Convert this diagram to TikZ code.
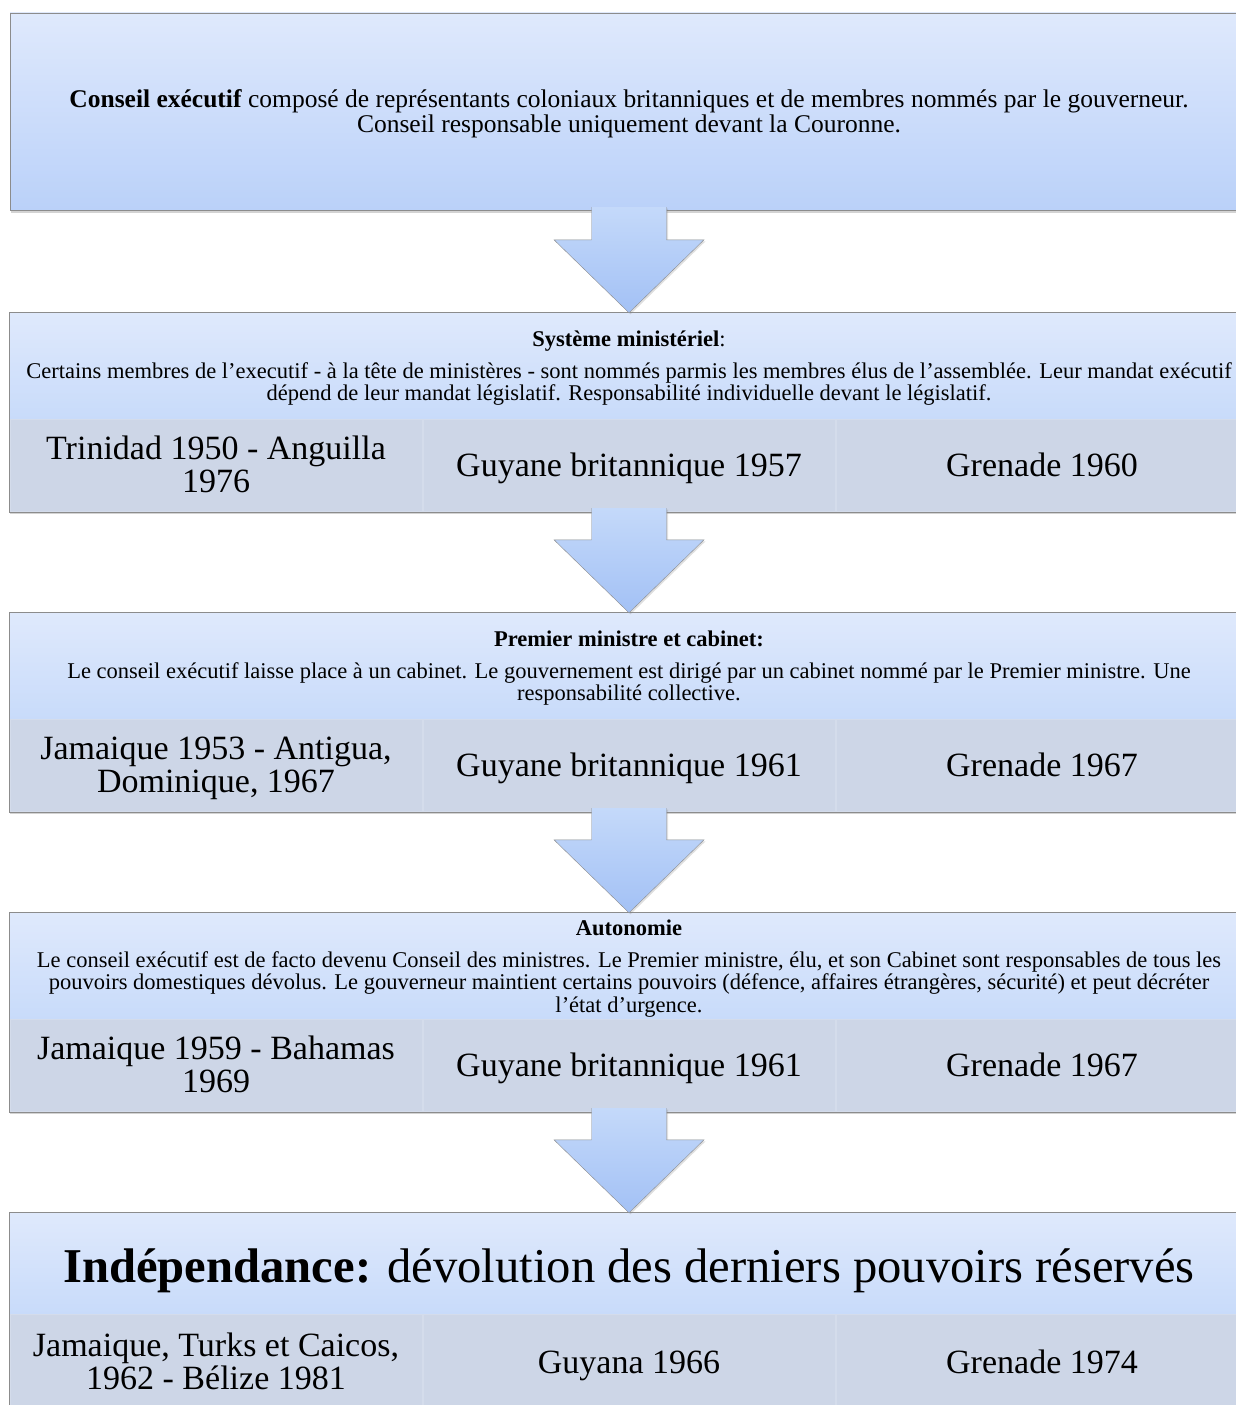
\documentclass[tikz,border=0pt]{standalone}
\usepackage{fontspec}
\setmainfont{Liberation Serif}
\usetikzlibrary{calc,shadows,positioning,fit,backgrounds}
\definecolor{bleuhaut}{HTML}{DFE9FC}
\definecolor{bleubas}{HTML}{C8DBFA}
\definecolor{bleufonce}{HTML}{BAD1F9}
\definecolor{grisbleu}{HTML}{CDD6E7}
\definecolor{bord}{HTML}{8C8C8C}
\definecolor{flechehaut}{HTML}{C4D9FA}
\definecolor{flechebas}{HTML}{A3C1F5}
\tikzstyle{ombre}=[drop shadow={shadow xshift=1pt, shadow yshift=-2.5pt, opacity=0.35}]
\tikzstyle{conseil}=[draw=bord, top color=bleuhaut, bottom color=bleufonce, ombre, minimum width=1238pt, minimum height=197pt, inner sep=0pt, align=center, font=\fontsize{25.5}{25}\selectfont, text height=42pt, text depth=0pt]
\tikzstyle{entete}=[top color=bleuhaut, bottom color=bleubas, minimum width=1238pt, minimum height=106pt, inner sep=0pt, align=center, font=\fontsize{22.5}{22.5}\selectfont, text height=69pt, text depth=0pt]
\tikzstyle{pays}=[fill=grisbleu, draw=grisbleu!85!white, minimum width=412.6pt, minimum height=92pt, inner sep=0pt, align=center, font=\fontsize{34}{33}\selectfont, text height=22pt, text depth=0pt]
\tikzstyle{deuxlignes}=[text height=55pt]
\tikzstyle{cadre}=[draw=bord, fill=grisbleu, ombre, inner sep=0.5pt]
\tikzstyle{fleche}=[draw=bord, top color=flechehaut, bottom color=flechebas, line join=miter, drop shadow={shadow xshift=1.5pt, shadow yshift=-1.5pt, opacity=0.25}]
\newcommand{\flechebloc}[2]{%
  \draw[fleche] ($(#1.south)+(-37.5,-3)$) -- ($(#2.north)+(-37.5,-73)$) -- ($(#2.north)+(-75,-73)$)
    -- (#2.north) -- ($(#2.north)+(75,-73)$) -- ($(#2.north)+(37.5,-73)$) -- ($(#1.south)+(37.5,-3)$);}

\begin{document}
\begin{tikzpicture}[x=1pt,y=-1pt]
\useasboundingbox (0,0) rectangle (1236,1405);

% conseil executif
\node[conseil] (conseil) at (629,111.5) {\textbf{Conseil exécutif} composé de représentants coloniaux britanniques et de membres nommés par le gouverneur.\\ Conseil responsable uniquement devant la Couronne.};

% systeme ministeriel
\node[entete] (sysmin) at (629,366) {\textbf{Système ministériel}:\\[9pt] Certains membres de l'executif - à la tête de ministères - sont nommés parmis les membres élus de l'assemblée. Leur mandat exécutif\\ dépend de leur mandat législatif. Responsabilité individuelle devant le législatif.};
\node[pays, deuxlignes] (sysmin-a) at (216,465) {Trinidad 1950 - Anguilla\\ 1976};
\node[pays, right=0pt of sysmin-a] (sysmin-b) {Guyane britannique 1957};
\node[pays, right=0pt of sysmin-b] (sysmin-c) {Grenade 1960};
\begin{scope}[on background layer]
\node[cadre, fit=(sysmin)(sysmin-a)(sysmin-c)] (cadre-sysmin) {};
\end{scope}

% premier ministre et cabinet
\node[entete] (cabinet) at (629,666) {\textbf{Premier ministre et cabinet:}\\[9pt] Le conseil exécutif laisse place à un cabinet. Le gouvernement est dirigé par un cabinet nommé par le Premier ministre. Une\\ responsabilité collective.};
\node[pays, deuxlignes] (cabinet-a) at (216,765) {Jamaique 1953 - Antigua,\\ Dominique, 1967};
\node[pays, right=0pt of cabinet-a] (cabinet-b) {Guyane britannique 1961};
\node[pays, right=0pt of cabinet-b] (cabinet-c) {Grenade 1967};
\begin{scope}[on background layer]
\node[cadre, fit=(cabinet)(cabinet-a)(cabinet-c)] (cadre-cabinet) {};
\end{scope}

% autonomie
\node[entete, text height=92pt] (autonomie) at (629,966) {\textbf{Autonomie}\\[9pt] Le conseil exécutif est de facto devenu Conseil des ministres. Le Premier ministre, élu, et son Cabinet sont responsables de tous les\\ pouvoirs domestiques dévolus. Le gouverneur maintient certains pouvoirs (défence, affaires étrangères, sécurité) et peut décréter\\ l'état d'urgence.};
\node[pays, deuxlignes] (autonomie-a) at (216,1065) {Jamaique 1959 - Bahamas\\ 1969};
\node[pays, right=0pt of autonomie-a] (autonomie-b) {Guyane britannique 1961};
\node[pays, right=0pt of autonomie-b] (autonomie-c) {Grenade 1967};
\begin{scope}[on background layer]
\node[cadre, fit=(autonomie)(autonomie-a)(autonomie-c)] (cadre-autonomie) {};
\end{scope}

% independance
\node[entete, minimum height=101pt, text height=37pt, font=\fontsize{48.6}{50}\selectfont] (indep) at (629,1263.5) {\textbf{Indépendance:} dévolution des derniers pouvoirs réservés};
\node[pays, deuxlignes, minimum height=96pt] (indep-a) at (216,1362) {Jamaique, Turks et Caicos,\\ 1962 - Bélize 1981};
\node[pays, minimum height=96pt, right=0pt of indep-a] (indep-b) {Guyana 1966};
\node[pays, minimum height=96pt, right=0pt of indep-b] (indep-c) {Grenade 1974};
\begin{scope}[on background layer]
\node[cadre, fit=(indep)(indep-a)(indep-c)] (cadre-indep) {};
\end{scope}

% fleches
\flechebloc{conseil}{sysmin}
\flechebloc{sysmin-b}{cabinet}
\flechebloc{cabinet-b}{autonomie}
\flechebloc{autonomie-b}{indep}

\end{tikzpicture}
\end{document}
